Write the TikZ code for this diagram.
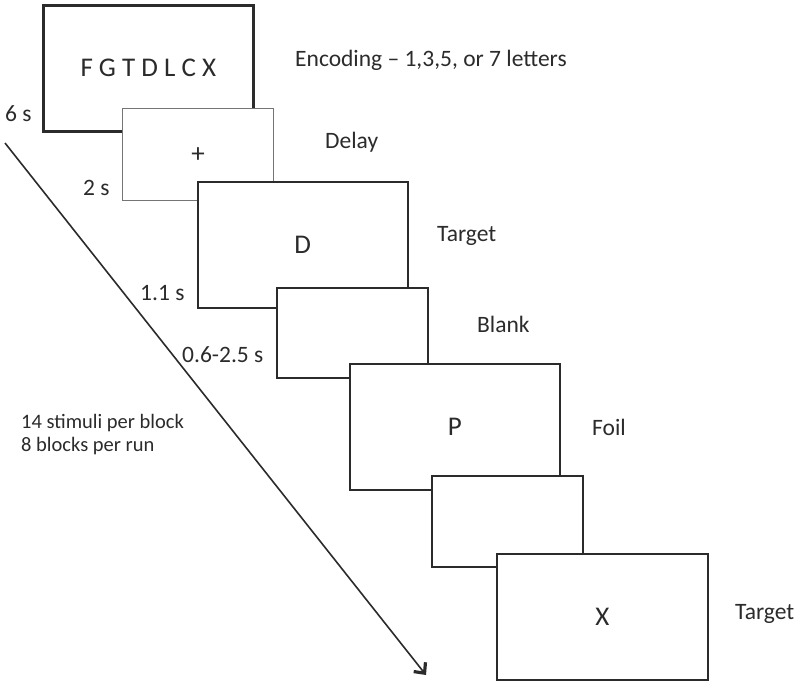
\documentclass[tikz,border=0pt]{standalone}
\usepackage{fontspec}
\setmainfont{Carlito}
\usetikzlibrary{arrows.meta}
\definecolor{ink}{HTML}{2B2B2B}
\tikzset{
  frame/.style={draw=ink, line width=1.6pt, fill=white, rectangle, inner sep=0pt, anchor=north west, font=\fontsize{27}{30}\selectfont, text=ink},
  bigframe/.style={frame, line width=2.6pt},
  lightframe/.style={frame, draw=ink!65, line width=1.4pt},
  lbl/.style={anchor=west, inner sep=0pt, font=\fontsize{23.5}{26}\selectfont, text=ink},
  note/.style={anchor=north west, inner sep=0pt, align=left, font=\fontsize{20.5}{23}\selectfont, text=ink},
}
\begin{document}
\begin{tikzpicture}[x=1pt, y=-1pt]
\useasboundingbox (0,0) rectangle (798,689);
% arrow
\coordinate (a1) at (5,143);
\coordinate (a2) at (426,675);
\draw[ink, line width=1.6pt, -{Straight Barb[length=8pt, width=15pt, line width=3.2pt]}] (a1) -- (a2);
% boxes
\node[bigframe, minimum width=210pt, minimum height=126pt] (b1) at (42,4) {F G T D L C X};
\node[lightframe, minimum width=151pt, minimum height=92pt] (b2) at (122,108) {+};
\node[frame, minimum width=210pt, minimum height=126pt] (b3) at (197,181) {D};
\node[frame, minimum width=151pt, minimum height=90pt] (b4) at (276,287) {};
\node[frame, minimum width=210pt, minimum height=126pt] (b5) at (349,363) {P};
\node[frame, minimum width=151pt, minimum height=91pt] (b6) at (431,475) {};
\node[frame, minimum width=211pt, minimum height=126pt] (b7) at (496,553) {X};
% right labels
\node[lbl] (l1) at (295,60) {Encoding – 1,3,5, or 7 letters};
\node[lbl] (l2) at (325,142) {Delay};
\node[lbl] (l3) at (437,236) {Target};
\node[lbl] (l4) at (477,324) {Blank};
\node[lbl] (l5) at (592,427) {Foil};
\node[lbl] (l7) at (735,614) {Target};
% durations
\node[lbl] (t1) at (5,114) {6 s};
\node[lbl] (t2) at (83,188) {2 s};
\node[lbl] (t3) at (140,293) {1.1 s};
\node[lbl] (t4) at (182,355) {0.6-2.5 s};
% note
\node[note] (n1) at (21,414) {14 stimuli per block\\8 blocks per run};
\end{tikzpicture}
\end{document}
